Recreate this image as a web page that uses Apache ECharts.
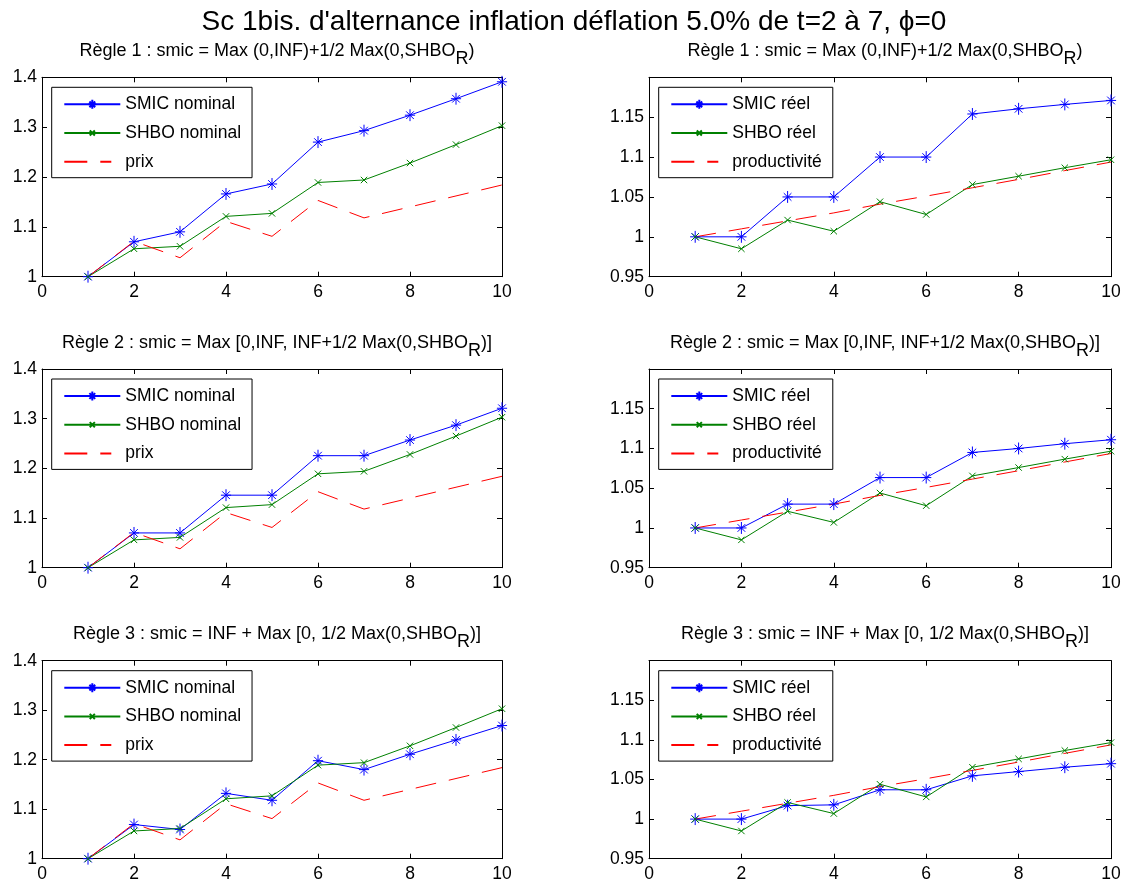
<!DOCTYPE html>
<html>
<head>
<meta charset="utf-8">
<script src="https://cdn.jsdelivr.net/npm/echarts@6/dist/echarts.min.js"></script>
<style>
html,body{margin:0;padding:0;background:#fff;}
#main{width:1132px;height:884px;}
</style>
</head>
<body>
<div id="main"></div>
<script>
// ---- data ----
const xs = [1, 2, 3, 4, 5, 6, 7, 8, 9, 10];
const prix = [1, 1.071, 1.038, 1.111, 1.081, 1.153, 1.118, 1.14, 1.162, 1.184];
const productivite = [1, 1.01, 1.02, 1.03, 1.041, 1.051, 1.0615, 1.072, 1.083, 1.0937];
const shboNominal = [1, 1.056, 1.061, 1.121, 1.127, 1.189, 1.194, 1.228, 1.265, 1.303];
const shboReel = [1, 0.985, 1.021, 1.007, 1.044, 1.028, 1.0655, 1.076, 1.0866, 1.0966];
const smicNominal1 = [1, 1.07, 1.09, 1.166, 1.186, 1.27, 1.293, 1.324, 1.357, 1.391];
const smicReel1 = [1, 1.0, 1.05, 1.05, 1.1, 1.1, 1.154, 1.1605, 1.166, 1.171];
const smicNominal2 = [1, 1.07, 1.07, 1.146, 1.146, 1.2255, 1.2255, 1.257, 1.287, 1.321];
const smicReel2 = [1, 1.0, 1.03, 1.03, 1.0634, 1.0634, 1.095, 1.1, 1.106, 1.111];
const smicNominal3 = [1, 1.069, 1.059, 1.132, 1.118, 1.198, 1.18, 1.211, 1.24, 1.269];
const smicReel3 = [1, 1.0, 1.017, 1.018, 1.037, 1.037, 1.0546, 1.06, 1.0655, 1.07];

const mainTitle = "Sc 1bis. d'alternance inflation déflation 5.0% de t=2 à 7, \u03d5=0";
const ruleTitles = [
  ['Règle 1 : smic = Max (0,INF)+1/2 Max(0,SHBO', ')'],
  ['Règle 2 : smic = Max [0,INF, INF+1/2 Max(0,SHBO', ')]'],
  ['Règle 3 : smic = INF + Max [0, 1/2 Max(0,SHBO', ')]']
];
const leftNames = ['SMIC nominal', 'SHBO nominal', 'prix'];
const rightNames = ['SMIC réel', 'SHBO réel', 'productivité'];
const leftY = {min: 1, max: 1.4, interval: 0.1};
const rightY = {min: 0.95, max: 1.2, interval: 0.05};
const xTicks = {min: 0, max: 10, interval: 2};

const smicNominal = [smicNominal1, smicNominal2, smicNominal3];
const smicReel = [smicReel1, smicReel2, smicReel3];

// ---- layout ----
const FONT = 'Liberation Sans, Arial, Helvetica, sans-serif';
const colLeft = [42, 649];
const colWidth = [460, 462];
const rowTop = [77.3, 369, 660.7];
const rowHeight = [199.4, 198.7, 198];
// markers: visible strokes inside a fixed +-10 box
const BOX = 'M-10,-10M10,10';
const STAR = 'path://' + BOX + 'M0,-7L0,7M-6,0L6,0M-4.5,-4.5L4.5,4.5M-4.5,4.5L4.5,-4.5';
const CROSS = 'path://' + BOX + 'M-4,-4L4,4M-4,4L4,-4';
const NONE = 'path://' + BOX;

const pairs = v => xs.map((x, i) => [x, v[i]]);

const grids = [], xAxes = [], yAxes = [], series = [], legends = [];
const titles = [{
  text: mainTitle, left: 569, top: 3.5, textAlign: 'center',
  textStyle: {fontFamily: FONT, fontSize: 28, fontWeight: 'normal', color: '#000'}
}];

let gi = 0;
for (let r = 0; r < 3; r++) {
  for (let c = 0; c < 2; c++) {
    grids.push({left: colLeft[c], top: rowTop[r], width: colWidth[c], height: rowHeight[r], containLabel: false});
    const tickInside = {show: true, inside: true, length: 5, lineStyle: {color: '#000', width: 1}};
    const axLine = {show: true, onZero: false, lineStyle: {color: '#000', width: 1}};
    const xa = xAxes.length;
    xAxes.push({type: 'value', gridIndex: gi, position: 'bottom', min: xTicks.min, max: xTicks.max, interval: xTicks.interval,
      axisLine: axLine, axisTick: tickInside, splitLine: {show: false},
      axisLabel: {color: '#000', fontFamily: FONT, fontSize: 17.5, margin: 6}});
    xAxes.push({type: 'value', gridIndex: gi, position: 'top', min: xTicks.min, max: xTicks.max, interval: xTicks.interval,
      axisLine: axLine, axisTick: tickInside, splitLine: {show: false}, axisLabel: {show: false}});
    const yc = c === 0 ? leftY : rightY;
    const ya = yAxes.length;
    yAxes.push({type: 'value', gridIndex: gi, position: 'left', min: yc.min, max: yc.max, interval: yc.interval,
      axisLine: axLine, axisTick: tickInside, splitLine: {show: false},
      axisLabel: {color: '#000', fontFamily: FONT, fontSize: 17.5, margin: 5, showMaxLabel: c === 0,
        formatter: v => String(Math.round(v * 1000) / 1000)}});
    yAxes.push({type: 'value', gridIndex: gi, position: 'right', min: yc.min, max: yc.max, interval: yc.interval,
      axisLine: axLine, axisTick: tickInside, splitLine: {show: false}, axisLabel: {show: false}});

    const names = c === 0 ? leftNames : rightNames;
    const d1 = c === 0 ? smicNominal[r] : smicReel[r];
    const d2 = c === 0 ? shboNominal : shboReel;
    const d3 = c === 0 ? prix : productivite;
    series.push({type: 'line', name: names[0], xAxisIndex: xa, yAxisIndex: ya, data: pairs(d1),
      symbol: STAR, symbolSize: 17, showSymbol: true, animation: false,
      lineStyle: {color: '#0000ff', width: 1},
      itemStyle: {color: '#0000ff', borderColor: '#0000ff', borderWidth: 1}});
    series.push({type: 'line', name: names[1], xAxisIndex: xa, yAxisIndex: ya, data: pairs(d2),
      symbol: CROSS, symbolSize: 16, showSymbol: true, animation: false,
      lineStyle: {color: '#008000', width: 1},
      itemStyle: {color: '#008000', borderColor: '#008000', borderWidth: 1}});
    series.push({type: 'line', name: names[2], xAxisIndex: xa, yAxisIndex: ya, data: pairs(d3),
      symbol: NONE, symbolSize: 10, showSymbol: false, animation: false,
      lineStyle: {color: '#ff0000', width: 1, type: [21, 13]},
      itemStyle: {color: 'rgba(0,0,0,0)', borderColor: 'rgba(0,0,0,0)', borderWidth: 0}});

    legends.push({
      data: [names[0], names[1], {name: names[2], lineStyle: {type: [23, 13, 11, 20]}}],
      orient: 'vertical', left: colLeft[c] + 9.7, top: rowTop[r] + 10,
      itemWidth: 56, itemHeight: 16, itemGap: 10.7, padding: [8, 11, 7, 11.6],
      borderColor: '#000', borderWidth: 1, backgroundColor: '#fff',
      selectedMode: false,
      textStyle: {fontFamily: FONT, fontSize: 17.5, color: '#000', lineHeight: 16}
    });

    const t = ruleTitles[r];
    titles.push({
      text: '{a|' + t[0] + '}{s|R}{a|' + t[1] + '}',
      left: colLeft[c] + colWidth[c] / 2, top: rowTop[r] - 40.2, textAlign: 'center',
      textStyle: {fontFamily: FONT, fontSize: 18, fontWeight: 'normal', color: '#000',
        rich: {
          a: {fontFamily: FONT, fontSize: 18, color: '#000', verticalAlign: 'top', lineHeight: 20},
          s: {fontFamily: FONT, fontSize: 18, color: '#000', verticalAlign: 'top', lineHeight: 20, padding: [8, 0, 0, 0]}
        }}
    });
    gi++;
  }
}

const chart = echarts.init(document.getElementById('main'), null, {renderer: 'canvas'});
chart.setOption({
  backgroundColor: '#fff',
  animation: false,
  title: titles,
  grid: grids,
  xAxis: xAxes,
  yAxis: yAxes,
  legend: legends,
  series: series
});
</script>
</body>
</html>
